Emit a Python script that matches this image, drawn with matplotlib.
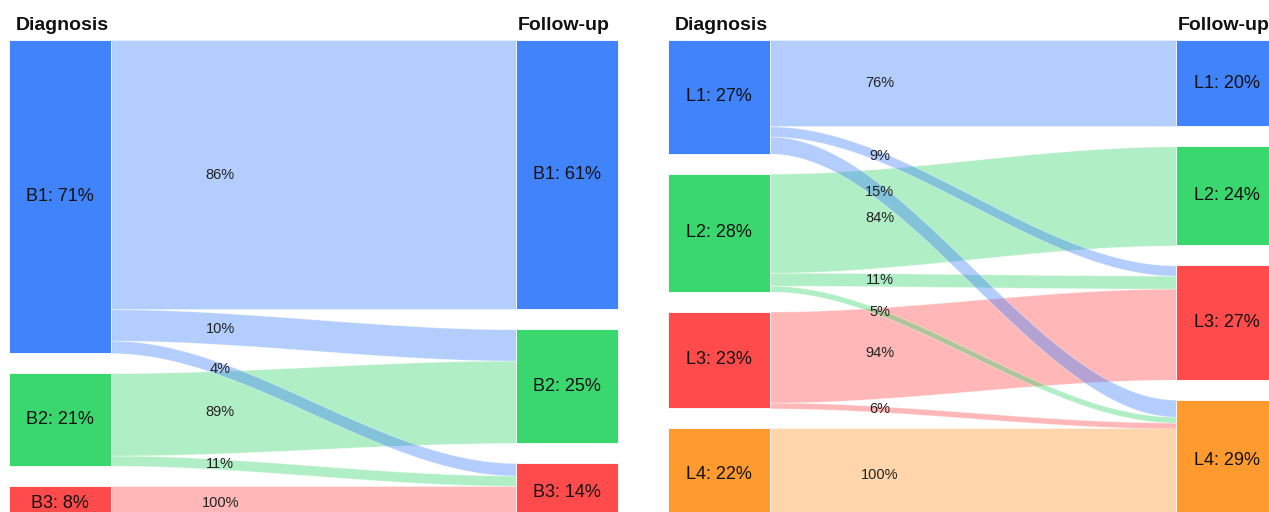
import numpy as np
import matplotlib.pyplot as plt
from matplotlib.patches import Rectangle

plt.rcParams['font.family'] = ['Liberation Sans', 'DejaVu Sans']

# --- data: left diagram (B classes) ---
b_names = ["B1", "B2", "B3"]
b_diag = [71, 21, 8]             # % at diagnosis
b_follow = [61, 25, 14]          # % at follow-up (labels)
b_src = [0, 0, 0, 1, 1, 2]
b_tgt = [0, 1, 2, 1, 2, 2]
b_pct = [86, 10, 4, 89, 11, 100]  # % of source node

# --- data: right diagram (L classes) ---
l_names = ["L1", "L2", "L3", "L4"]
l_diag = [27, 28, 23, 22]
l_follow = [20, 24, 27, 29]
l_src = [0, 0, 0, 1, 1, 1, 2, 2, 3]
l_tgt = [0, 2, 3, 1, 2, 3, 2, 3, 3]
l_pct = [76, 9, 15, 84, 11, 5, 94, 6, 100]

colors = ["#4183FB", "#3AD66E", "#FF4B4B", "#FF9A2F"]


def smooth(x0, x1, y0, y1, xs):
    s = (xs - x0) / (x1 - x0)
    return y0 + (y1 - y0) * (3 * s**2 - 2 * s**3)


def sankey(ax, names, diag, follow, src, tgt, pct, x0, x1,
           node_w=102, top=40, height=481, gap=20):
    n = len(names)
    flows = [diag[s] * p / 100 for s, p in zip(src, pct)]
    tgt_vals = [sum(f for f, t in zip(flows, tgt) if t == j) for j in range(n)]
    scale = (height - (n - 1) * gap) / sum(diag)

    def stack(vals):
        ys, y = [], top
        for v in vals:
            ys.append(y)
            y += v * scale + gap
        return ys

    sy = stack(diag)
    ty = stack(tgt_vals)
    xa = x0 + node_w        # right edge of source nodes
    xb = x1 - node_w        # left edge of target nodes

    # link geometry
    s_off = list(sy)
    t_off = list(ty)
    links = []
    for s, t, f, p in zip(src, tgt, flows, pct):
        w = f * scale
        links.append((s, s_off[s], t_off[t], w, p))
        s_off[s] += w
        t_off[t] += w

    xs = np.linspace(xa, xb, 200)
    for s, ys0, yt0, w, p in reversed(links):
        top_c = smooth(xa, xb, ys0, yt0, xs)
        ax.fill_between(xs, top_c, top_c + w, color=colors[s], alpha=0.4,
                        lw=0.6, edgecolor="white", zorder=1)
    lx = xa + 0.27 * (xb - xa)
    for s, ys0, yt0, w, p in links:
        ly = smooth(xa, xb, ys0, yt0, np.array([lx]))[0] + w / 2
        ax.text(lx, ly, f"{p}%", ha="center", va="center",
                fontsize=10.5, color="#222222", zorder=4)

    # nodes
    for i in range(n):
        h = diag[i] * scale
        ax.add_patch(Rectangle((x0, sy[i]), node_w, h, facecolor=colors[i],
                               edgecolor="white", lw=0.6, zorder=2))
        ax.text(x0 + node_w / 2, sy[i] + h / 2, f"{names[i]}: {diag[i]}%",
                ha="center", va="center", fontsize=13, color="#111111", zorder=3)
        h = tgt_vals[i] * scale
        ax.add_patch(Rectangle((xb, ty[i]), node_w, h, facecolor=colors[i],
                               edgecolor="white", lw=0.6, zorder=2))
        ax.text(xb + node_w / 2, ty[i] + h / 2, f"{names[i]}: {follow[i]}%",
                ha="center", va="center", fontsize=13, color="#111111", zorder=3)

    ax.text(x0 + 7, top - 10, "Diagnosis", ha="left", va="baseline",
            fontsize=14, fontweight="bold", color="#111111")
    ax.text(x1 - 8, top - 10, "Follow-up", ha="right", va="baseline",
            fontsize=14, fontweight="bold", color="#111111")


fig = plt.figure(figsize=(12.69, 5.12), dpi=100)
ax = fig.add_axes([0, 0, 1, 1])
ax.set_xlim(0, 1269)
ax.set_ylim(512, 0)
ax.axis("off")

sankey(ax, b_names, b_diag, b_follow, b_src, b_tgt, b_pct, 9, 618)
sankey(ax, l_names, l_diag, l_follow, l_src, l_tgt, l_pct, 668, 1278)

fig.savefig("out.png", dpi=100)
